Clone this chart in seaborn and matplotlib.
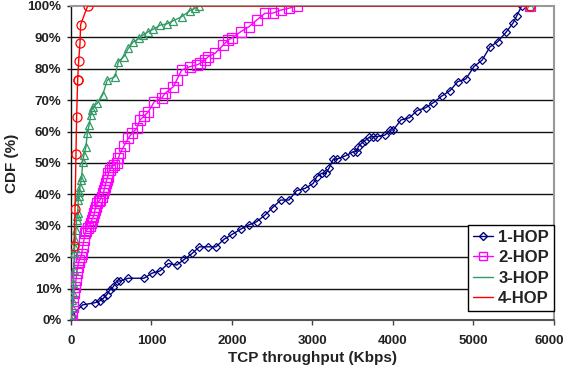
import matplotlib
matplotlib.use("Agg")
import matplotlib.pyplot as plt
import matplotlib.transforms as mtransforms
from matplotlib.lines import Line2D
import seaborn as sns
import pandas as pd

# ---------------- data ----------------
one_hop_x = [10, 145, 298, 360, 401, 443, 484, 526, 567, 609, 712, 907, 1006, 1106, 1209, 1313,
             1408, 1505, 1595, 1706, 1801, 1901, 2004, 2108, 2211, 2306, 2410, 2505, 2605, 2708,
             2804, 2907, 3010, 3052, 3114, 3164, 3205, 3258, 3300, 3404, 3507, 3549, 3569, 3611,
             3652, 3706, 3755, 3797, 3901, 3963, 4004, 4099, 4203, 4302, 4406, 4501, 4605, 4708,
             4804, 4907, 5006, 5109, 5205, 5300, 5404, 5495, 5537, 5599]
one_hop_y = [1.4, 4.8, 5.5, 6.1, 6.9, 8.0, 9.6, 10.6, 12.4, 12.4, 13.3, 13.3, 14.9, 15.6, 18.0, 17.5,
             19.3, 21.2, 23.3, 23.3, 23.3, 25.7, 27.3, 28.9, 30.3, 31.3, 33.4, 35.8, 38.2, 38.2,
             41.2, 41.9, 43.5, 45.6, 46.7, 46.7, 48.3, 51.2, 51.2, 52.2, 53.6, 53.6, 55.2, 56.3,
             57.1, 58.2, 58.4, 58.4, 58.9, 60.5, 60.5, 63.7, 64.4, 66.7, 67.6, 69.2, 71.3, 73.0,
             75.9, 76.8, 80.7, 82.8, 87.0, 88.6, 91.6, 94.7, 96.8, 100.0]

two_hop_x = [0, 10, 21, 30, 37, 50, 62, 72, 83, 95, 103, 120, 133, 145, 161, 174, 190, 215, 230, 245,
             260, 277, 290, 298, 310, 327, 345, 360, 380, 401, 412, 422, 432, 443, 455, 464, 480, 505,
             530, 567, 588, 609, 660, 712, 760, 816, 857, 910, 960, 1035, 1126, 1168, 1271, 1313,
             1375, 1478, 1561, 1602, 1665, 1706, 1789, 1892, 1954, 2004, 2108, 2211, 2306, 2410,
             2505, 2605, 2708, 2804, 5700]
two_hop_y = [0, 2, 4, 6, 8.5, 10.5, 12.7, 15, 17, 18.5, 19, 20, 21, 23.3, 25.5, 27.6, 28.5, 29.2, 30,
             30.8, 32, 32.9, 34, 35, 36, 37.2, 37.8, 38.2, 39.3, 40.3, 41.5, 42.5, 43.5, 44.6, 45.5,
             46.7, 47.8, 48.8, 49.3, 49.9, 51.5, 53.1, 55.5, 57.9, 59.5, 61, 63.7, 65, 66.3, 69.5,
             70.6, 72.2, 74.3, 76.4, 79.6, 80.7, 81.2, 81.7, 82.8, 83.9, 84.9, 87.6, 89.2, 89.9,
             91.8, 93.4, 95.5, 97.7, 97.7, 98.7, 99.3, 100, 100]

three_hop_x = [0, 5, 12, 18, 25, 30, 37, 41, 45, 53, 62, 70, 76, 83, 91, 97, 103, 112, 125, 133,
               145, 161, 186, 203, 225, 245, 260, 277, 327, 394, 451, 547, 588, 658, 712, 774, 849,
               898, 960, 1023, 1106, 1188, 1271, 1375, 1478, 1540, 1594, 5700]
three_hop_y = [0, 2, 4.2, 6.5, 8.5, 11.7, 15.9, 21.2, 23, 25.5, 28.7, 31.8, 33, 34, 38.2, 39.5,
               40.9, 42.5, 44.5, 45.6, 50.4, 52.5, 55.2, 59.5, 62, 65.3, 67, 67.9, 69, 71.7, 76.4,
               77.5, 82.3, 83.9, 86.5, 88.6, 89.7, 90.8, 91.8, 92.6, 93.9, 94.3, 95.3, 96.6, 98.5,
               99.3, 100, 100]

four_hop_x = [37, 50, 62, 70, 83, 83, 95, 112, 120, 207, 5700]
four_hop_y = [23.5, 35.3, 52.9, 64.7, 76.5, 76.5, 82.4, 88.2, 94.1, 100, 100]

series_names = ["1-HOP", "2-HOP", "3-HOP", "4-HOP"]
x_ticks = [0, 1000, 2000, 3000, 4000, 5000, 6000]
y_ticks = [0, 10, 20, 30, 40, 50, 60, 70, 80, 90, 100]

# ---------------- style ----------------
sns.set_theme(style="white")
plt.rcParams['font.family'] = ['Liberation Sans', 'DejaVu Sans']

colors = ["#000080", "#FF00FF", "#339966", "#FF0000"]
markers = ["D", "s", "^", "o"]
msizes = [4.5, 6.5, 6, 6.5]
data = [(one_hop_x, one_hop_y), (two_hop_x, two_hop_y),
        (three_hop_x, three_hop_y), (four_hop_x, four_hop_y)]

fig = plt.figure(figsize=(5.67, 3.75), dpi=100)
ax = fig.add_axes([0.1252, 0.1467, 0.8518, 0.8373])

for y in y_ticks[1:-1]:
    ax.axhline(y, color="#111111", lw=1.0, zorder=0)

for name, (xs, ys), c, m, ms in zip(series_names, data, colors, markers, msizes):
    df = pd.DataFrame({"x": xs, "y": ys})
    sns.lineplot(data=df, x="x", y="y", sort=False, estimator=None, ax=ax,
                 color=c, lw=1.0, marker=m, markersize=ms, markerfacecolor="none",
                 markeredgecolor=c, markeredgewidth=0.9, zorder=3, legend=False)

ax.set_xlim(0, 6000)
ax.set_ylim(0, 100)
ax.set_xticks(x_ticks)
ax.set_xticklabels([str(v) for v in x_ticks], fontsize=9.5, fontweight="bold")
ax.set_yticks(y_ticks)
ax.set_yticklabels([f"{v}%" for v in y_ticks], fontsize=9.5, fontweight="bold")
ax.tick_params(axis="x", direction="out", length=3.5, width=1, color="#444444", pad=7,
               bottom=True, labelcolor="#222222")
ax.tick_params(axis="y", direction="out", length=3, width=1, color="#222222", pad=4,
               left=True, labelcolor="#222222")
# keep the last x tick label inside the canvas
last_lbl = ax.get_xticklabels()[-1]
last_lbl.set_transform(last_lbl.get_transform() +
                       mtransforms.ScaledTranslation(-5 / 100, 0, fig.dpi_scale_trans))

ax.set_xlabel("TCP throughput (Kbps)", fontsize=11, fontweight="bold", labelpad=3,
              color="#222222")
ax.set_ylabel("CDF (%)", fontsize=11, fontweight="bold", labelpad=6, color="#222222")

ax.spines["left"].set_color("#111111")
ax.spines["left"].set_linewidth(1.0)
ax.spines["bottom"].set_color("#555555")
ax.spines["bottom"].set_linewidth(1.5)
for s in ["top", "right"]:
    ax.spines[s].set_color("#999999")
    ax.spines[s].set_linewidth(1.5)

handles = [
    Line2D([], [], color=colors[0], marker="D", markersize=4.5, markerfacecolor="none", lw=1),
    Line2D([], [], color=colors[1], marker="s", markersize=6, markerfacecolor="none", lw=1),
    Line2D([], [], color=colors[2], lw=1),
    Line2D([], [], color=colors[3], lw=1),
]
leg = ax.legend(handles, series_names, loc="lower right", bbox_to_anchor=(1.0, 0.028),
                prop={"weight": "bold", "size": 12}, frameon=True, fancybox=False,
                edgecolor="black", framealpha=1, borderpad=0.3, labelspacing=0.33,
                handlelength=1.2, handletextpad=0.3, borderaxespad=0.0)
leg.get_frame().set_linewidth(1.0)
for t in leg.get_texts():
    t.set_color("#222222")

fig.savefig("out.png", dpi=100)
